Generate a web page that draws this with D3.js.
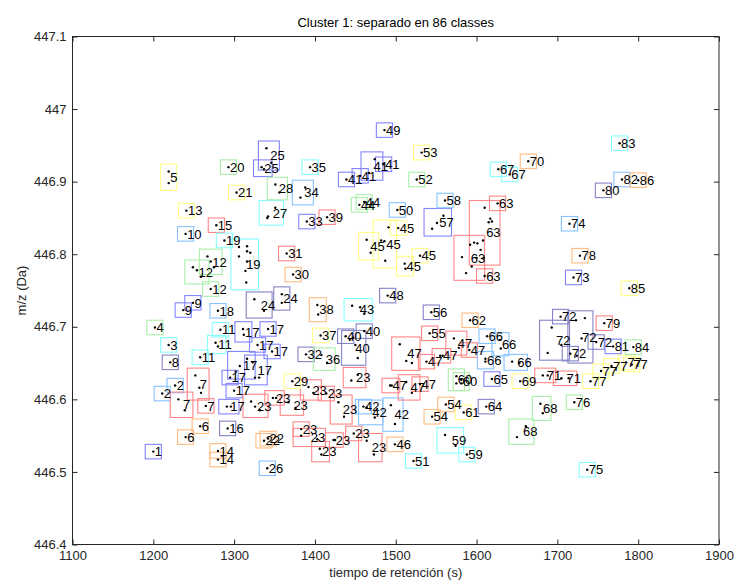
<!DOCTYPE html>
<html>
<head>
<meta charset="utf-8">
<script src="https://cdn.jsdelivr.net/npm/d3@7"></script>
<style>
  body { margin: 0; background: #fff; }
  svg text { font-family: "Liberation Sans", Arial, Helvetica, sans-serif; }
</style>
</head>
<body>
<svg id="chart" width="737" height="581"></svg>
<script>
// Axis ticks
const rtTicks = [1100, 1200, 1300, 1400, 1500, 1600, 1700, 1800, 1900];
const mzTicks = [446.4, 446.5, 446.6, 446.7, 446.8, 446.9, 447.0, 447.1];
const mzTickLabels = ["446.4", "446.5", "446.6", "446.7", "446.8", "446.9", "447", "447.1"];

// Box colour by class number (class % 8)
const classColors = ["#8484c6", "#8484ff", "#86c2ff", "#88ffff", "#aaeeaa", "#ffff88", "#ffbb80", "#ff8686"];

// Tolerances used to draw a box around each sub-cluster
const rtTol = 10;     // s
const mzTol = 0.01;   // Da

// Sub-clusters: [class, [[retention time (s), m/z (Da)], ...]]
const subclusters = [
  [1, [[1200, 446.528]]],
  [2, [[1227, 446.619]]],
  [2, [[1211, 446.608]]],
  [3, [[1219, 446.675]]],
  [4, [[1202, 446.699]]],
  [5, [[1219, 446.914], [1219, 446.898]]],
  [6, [[1258, 446.563]]],
  [6, [[1240, 446.548]]],
  [7, [[1252, 446.633], [1259, 446.609], [1257, 446.616]]],
  [7, [[1231, 446.600], [1239, 446.585]]],
  [7, [[1265, 446.591]]],
  [8, [[1221, 446.651]]],
  [9, [[1249, 446.733]]],
  [9, [[1237, 446.723]]],
  [10, [[1240, 446.828]]],
  [11, [[1283, 446.696]]],
  [11, [[1277, 446.678], [1280, 446.673]]],
  [11, [[1258, 446.658]]],
  [12, [[1267, 446.797], [1275, 446.782], [1271, 446.790]]],
  [12, [[1249, 446.782], [1259, 446.769], [1254, 446.778]]],
  [12, [[1271, 446.752]]],
  [13, [[1241, 446.860]]],
  [14, [[1280, 446.529]]],
  [14, [[1280, 446.517]]],
  [15, [[1278, 446.840]]],
  [16, [[1292, 446.560]]],
  [17, [[1311, 446.697], [1312, 446.689]]],
  [17, [[1342, 446.697]]],
  [17, [[1329, 446.675]]],
  [17, [[1347, 446.666]]],
  [17, [[1302, 446.638], [1316, 446.656], [1307, 446.646]]],
  [17, [[1323, 446.651], [1331, 446.630], [1326, 446.630]]],
  [17, [[1295, 446.630]]],
  [17, [[1300, 446.612]]],
  [17, [[1291, 446.590], [1296, 446.590]]],
  [18, [[1280, 446.722]]],
  [19, [[1288, 446.819]]],
  [19, [[1306, 446.810], [1316, 446.811], [1316, 446.804], [1306, 446.797], [1316, 446.790], [1314, 446.777], [1315, 446.761], [1320, 446.802]]],
  [20, [[1293, 446.920]]],
  [21, [[1303, 446.885]]],
  [22, [[1337, 446.543]]],
  [22, [[1342, 446.546]]],
  [23, [[1445, 446.626], [1453, 446.634]]],
  [23, [[1321, 446.597], [1332, 446.585], [1326, 446.590]]],
  [23, [[1367, 446.596], [1376, 446.588]]],
  [23, [[1348, 446.602], [1352, 446.602]]],
  [23, [[1392, 446.617], [1398, 446.609]]],
  [23, [[1414, 446.608]]],
  [23, [[1429, 446.596], [1436, 446.576]]],
  [23, [[1383, 446.559]]],
  [23, [[1383, 446.550], [1403, 446.545]]],
  [23, [[1406, 446.532], [1408, 446.524]]],
  [23, [[1423, 446.544], [1425, 446.544]]],
  [23, [[1448, 446.553]]],
  [23, [[1464, 446.543], [1473, 446.524]]],
  [24, [[1325, 446.738], [1337, 446.722]]],
  [24, [[1359, 446.745], [1359, 446.733]]],
  [25, [[1340, 446.946], [1346, 446.926]]],
  [25, [[1334, 446.920], [1337, 446.917]]],
  [26, [[1341, 446.505]]],
  [27, [[1341, 446.850], [1351, 446.864], [1342, 446.852]]],
  [28, [[1351, 446.896], [1356, 446.885]]],
  [29, [[1372, 446.625]]],
  [30, [[1373, 446.772]]],
  [31, [[1365, 446.801]]],
  [32, [[1389, 446.662]]],
  [33, [[1390, 446.845]]],
  [34, [[1388, 446.892], [1382, 446.878]]],
  [35, [[1394, 446.920]]],
  [36, [[1408, 446.661], [1415, 446.650]]],
  [37, [[1407, 446.688]]],
  [38, [[1403, 446.730], [1404, 446.717]]],
  [39, [[1415, 446.851]]],
  [40, [[1438, 446.687]]],
  [40, [[1461, 446.694]]],
  [40, [[1443, 446.682], [1447, 446.685], [1453, 446.657], [1450, 446.675]]],
  [41, [[1474, 446.931], [1467, 446.912]]],
  [41, [[1485, 446.924]]],
  [41, [[1456, 446.908]]],
  [41, [[1439, 446.903]]],
  [42, [[1460, 446.590]]],
  [42, [[1464, 446.589], [1474, 446.575]]],
  [42, [[1494, 446.592], [1499, 446.566]]],
  [43, [[1446, 446.729], [1461, 446.718], [1456, 446.727]]],
  [44, [[1461, 446.872]]],
  [44, [[1455, 446.868]]],
  [45, [[1503, 446.836]]],
  [45, [[1491, 446.837], [1482, 446.819], [1487, 446.791], [1486, 446.818]]],
  [45, [[1464, 446.820], [1469, 446.802]]],
  [45, [[1511, 446.787], [1512, 446.780]]],
  [45, [[1530, 446.798]]],
  [46, [[1499, 446.538]]],
  [47, [[1505, 446.676], [1520, 446.650], [1513, 446.653]]],
  [47, [[1572, 446.684], [1578, 446.671]]],
  [47, [[1591, 446.668]]],
  [47, [[1555, 446.660], [1558, 446.660]]],
  [47, [[1538, 446.652]]],
  [47, [[1493, 446.619], [1495, 446.619]]],
  [47, [[1513, 446.624], [1520, 446.609]]],
  [47, [[1530, 446.621]]],
  [48, [[1490, 446.743]]],
  [49, [[1486, 446.971]]],
  [50, [[1502, 446.861]]],
  [51, [[1522, 446.515]]],
  [52, [[1526, 446.903]]],
  [53, [[1532, 446.940]]],
  [54, [[1562, 446.593]]],
  [54, [[1545, 446.576]]],
  [55, [[1542, 446.691]]],
  [56, [[1544, 446.720]]],
  [57, [[1545, 446.835], [1559, 446.853], [1551, 446.843]]],
  [58, [[1561, 446.874]]],
  [59, [[1561, 446.551], [1574, 446.536]]],
  [59, [[1588, 446.524]]],
  [60, [[1575, 446.632], [1575, 446.622]]],
  [60, [[1581, 446.627], [1581, 446.622]]],
  [61, [[1584, 446.582]]],
  [62, [[1592, 446.709]]],
  [63, [[1626, 446.870]]],
  [63, [[1610, 446.864], [1617, 446.849], [1619, 446.845], [1615, 446.844], [1601, 446.815], [1605, 446.806], [1609, 446.795], [1608, 446.819]]],
  [63, [[1582, 446.796], [1592, 446.813], [1600, 446.795], [1594, 446.783], [1587, 446.774], [1597, 446.816]]],
  [63, [[1610, 446.770]]],
  [64, [[1612, 446.590]]],
  [65, [[1619, 446.628]]],
  [66, [[1613, 446.687]]],
  [66, [[1629, 446.682], [1630, 446.670]]],
  [66, [[1611, 446.656], [1611, 446.652]]],
  [66, [[1644, 446.652], [1653, 446.650]]],
  [67, [[1627, 446.917]]],
  [67, [[1641, 446.910]]],
  [68, [[1650, 446.548], [1661, 446.563]]],
  [68, [[1679, 446.594], [1682, 446.581]]],
  [69, [[1654, 446.625]]],
  [70, [[1664, 446.928]]],
  [71, [[1682, 446.633], [1688, 446.633]]],
  [71, [[1705, 446.629], [1714, 446.629]]],
  [72, [[1688, 446.664], [1693, 446.699], [1705, 446.675]]],
  [72, [[1704, 446.714]]],
  [72, [[1723, 446.709], [1734, 446.712], [1724, 446.660], [1730, 446.684]]],
  [72, [[1716, 446.663]]],
  [72, [[1748, 446.679]]],
  [73, [[1720, 446.768]]],
  [74, [[1715, 446.842]]],
  [75, [[1737, 446.503]]],
  [76, [[1721, 446.596]]],
  [77, [[1785, 446.651]]],
  [77, [[1792, 446.648]]],
  [77, [[1767, 446.646]]],
  [77, [[1754, 446.639]]],
  [77, [[1741, 446.625]]],
  [78, [[1728, 446.798]]],
  [79, [[1758, 446.705]]],
  [80, [[1757, 446.888]]],
  [81, [[1769, 446.673]]],
  [82, [[1780, 446.903]]],
  [83, [[1777, 446.953]]],
  [84, [[1794, 446.672]]],
  [85, [[1789, 446.753]]],
  [86, [[1800, 446.902]]]
];

const titleText = "Cluster 1: separado en 86 classes";
const xLabelText = "tiempo de retención (s)";
const yLabelText = "m/z (Da)";

// ---- layout ----
const svg = d3.select("#chart");
const frame = { left: 72.5, right: 719, top: 36.5, bottom: 544.5 };
const axisColor = "#262626";

const x = d3.scaleLinear().domain([1100, 1900]).range([frame.left, frame.right]);
const y = d3.scaleLinear().domain([446.4, 447.1]).range([frame.bottom, frame.top]);

// per-subcluster boxes and label positions
const groups = subclusters.map(([cls, peaks]) => {
  const [r0, r1] = d3.extent(peaks, p => p[0]);
  const [m0, m1] = d3.extent(peaks, p => p[1]);
  return {
    cls, peaks,
    r0: r0 - rtTol, r1: r1 + rtTol,
    m0: m0 - mzTol, m1: m1 + mzTol,
    rc: (r0 + r1) / 2, mc: (m0 + m1) / 2
  };
});

const plotArea = svg.append("g");

plotArea.selectAll("rect.box")
  .data(groups)
  .join("rect")
  .attr("class", "box")
  .attr("x", d => x(d.r0))
  .attr("y", d => y(d.m1))
  .attr("width", d => x(d.r1) - x(d.r0))
  .attr("height", d => y(d.m0) - y(d.m1))
  .attr("fill", "none")
  .attr("stroke", d => classColors[d.cls % 8])
  .attr("stroke-width", 1.1);

plotArea.selectAll("circle.peak")
  .data(groups.flatMap(g => g.peaks))
  .join("circle")
  .attr("class", "peak")
  .attr("cx", d => x(d[0]))
  .attr("cy", d => y(d[1]))
  .attr("r", 1.2)
  .attr("fill", "#000");

plotArea.selectAll("text.cls")
  .data(groups)
  .join("text")
  .attr("class", "cls")
  .attr("x", d => x(d.rc) + 1.5)
  .attr("y", d => y(d.mc))
  .attr("dy", "0.36em")
  .attr("font-size", 13)
  .attr("fill", "#000")
  .text(d => d.cls);

// ---- axes (ticks pointing inward on all four sides) ----
const tickLen = 5;
function styleAxis(g) {
  g.select(".domain").remove();
  g.selectAll(".tick line").attr("stroke", axisColor);
  g.selectAll(".tick text").attr("fill", axisColor).attr("font-size", 13)
    .attr("font-family", '"Liberation Sans", Arial, sans-serif');
}

svg.append("g")
  .attr("transform", `translate(0,${frame.bottom})`)
  .call(d3.axisBottom(x).tickValues(rtTicks).tickFormat(d3.format("d"))
    .tickSizeInner(-tickLen).tickSizeOuter(0).tickPadding(6))
  .call(styleAxis);

svg.append("g")
  .attr("transform", `translate(0,${frame.top})`)
  .call(d3.axisTop(x).tickValues(rtTicks).tickFormat("")
    .tickSizeInner(-tickLen).tickSizeOuter(0))
  .call(styleAxis);

svg.append("g")
  .attr("transform", `translate(${frame.left},0)`)
  .call(d3.axisLeft(y).tickValues(mzTicks).tickFormat((d, i) => mzTickLabels[i])
    .tickSizeInner(-tickLen).tickSizeOuter(0).tickPadding(6))
  .call(styleAxis);

svg.append("g")
  .attr("transform", `translate(${frame.right},0)`)
  .call(d3.axisRight(y).tickValues(mzTicks).tickFormat("")
    .tickSizeInner(-tickLen).tickSizeOuter(0))
  .call(styleAxis);

svg.append("rect")
  .attr("x", frame.left).attr("y", frame.top)
  .attr("width", frame.right - frame.left)
  .attr("height", frame.bottom - frame.top)
  .attr("fill", "none")
  .attr("stroke", axisColor)
  .attr("stroke-width", 1);

// ---- titles ----
const cx = (frame.left + frame.right) / 2;
svg.append("text")
  .attr("x", cx).attr("y", 27)
  .attr("text-anchor", "middle")
  .attr("font-size", 13)
  .attr("fill", "#000")
  .text(titleText);

svg.append("text")
  .attr("x", cx).attr("y", 577)
  .attr("text-anchor", "middle")
  .attr("font-size", 13)
  .attr("fill", axisColor)
  .text(xLabelText);

svg.append("text")
  .attr("transform", `translate(26,${(frame.top + frame.bottom) / 2}) rotate(-90)`)
  .attr("text-anchor", "middle")
  .attr("font-size", 13)
  .attr("fill", axisColor)
  .text(yLabelText);
</script>
</body>
</html>
